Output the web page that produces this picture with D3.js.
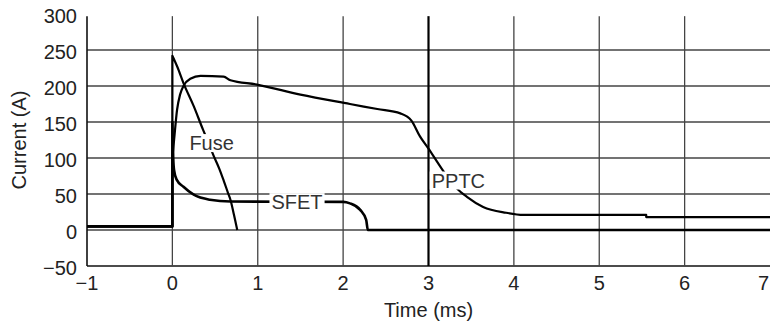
<!DOCTYPE html>
<html><head><meta charset="utf-8">
<script src="https://cdn.jsdelivr.net/npm/d3@7"></script>
<style>body{margin:0;background:#fff}text{font-family:"Liberation Sans",Arial,Helvetica,sans-serif}</style>
</head><body><svg id="c" width="770" height="330"></svg>
<script>
const xTicks = [-1,0,1,2,3,4,5,6,7];
const yTicks = [-50,0,50,100,150,200,250,300];
const fuse = [[-1,5],[0,5],[0,242],[0.06,226],[0.13,204],[0.25,172],[0.36,139],[0.42,122],[0.48,104],[0.55,85],[0.6,69],[0.65,52],[0.68,42],[0.72,22],[0.76,0]];
const pptc = [[-1,5],[0,5],[0,100],[0.02,125],[0.055,167],[0.09,188],[0.13,200],[0.21,210],[0.33,214],[0.6,213],[0.68,208],[0.99,202],[1.5,188],[2.08,175],[2.4,168],[2.67,162],[2.8,152],[2.9,130],[3.0,113],[3.15,86],[3.33,58],[3.45,46],[3.64,32],[3.91,24],[4.11,21],[5.55,21],[5.55,18],[7,18]];
const sfet = [[-1,5],[0,5],[0,150],[0.01,100],[0.02,83],[0.05,70],[0.13,60],[0.25,49],[0.44,42],[0.68,39.5],[2.0,39],[2.08,37],[2.2,28],[2.27,14],[2.29,0],[7,0]];
const labels = [{text:"Fuse",t:0.46,v:121},{text:"SFET",t:1.46,v:39},{text:"PPTC",t:3.35,v:69}];

const svg = d3.select("#c");
const x = d3.scaleLinear().domain([-1,7]).range([87,770]);
const y = d3.scaleLinear().domain([-50,300]).range([266,14]);

// grid
const g = svg.append("g");
g.selectAll("line.h").data(yTicks.filter(d=>d<300)).join("line")
  .attr("x1",x(-1)).attr("x2",x(7)).attr("y1",d=>y(d)).attr("y2",d=>y(d))
  .attr("stroke",d=>d===-50?"#111":"#444").attr("stroke-width",d=>d===-50?1.6:1.3);
g.selectAll("line.v").data(xTicks.filter(d=>d<7)).join("line")
  .attr("x1",d=>x(d)).attr("x2",d=>x(d)).attr("y1",y(-50)).attr("y2",y(297))
  .attr("stroke",d=>d===3?"#000":(d===-1?"#111":"#444"))
  .attr("stroke-width",d=>d===3?2.2:(d===-1?1.6:1.3));

// split series into runs of strictly increasing time; jumps drawn straight
const smooth = d3.line().x(d=>x(d[0])).y(d=>y(d[1])).curve(d3.curveMonotoneX);
function pathFor(s){
  const runs=[]; let cur=[s[0]];
  for(let i=1;i<s.length;i++){
    if(s[i][0]===s[i-1][0]){runs.push(cur);cur=[s[i]];} else cur.push(s[i]);
  }
  runs.push(cur);
  return runs.map((r,i)=>{const p=r.length>1?smooth(r):"M"+x(r[0][0])+","+y(r[0][1]);return i?"L"+p.slice(1):p;}).join("");
}
[[fuse,2.2],[pptc,2.2],[sfet,2.6]].forEach(([s,w])=>{
  svg.append("path").attr("d",pathFor(s)).attr("fill","none").attr("stroke","#000")
    .attr("stroke-width",w).attr("stroke-linejoin","round");
});

// labels
labels.forEach(l=>{
  const t = svg.append("text").attr("x",x(l.t)).attr("y",y(l.v)).attr("dy","0.36em")
    .attr("text-anchor","middle").attr("font-size",20).attr("fill","#333").text(l.text);
  const b = t.node().getBBox();
  svg.insert("rect","text").attr("x",b.x-2).attr("y",b.y+2).attr("width",b.width+4).attr("height",b.height-4).attr("fill","#fff");
  t.raise();
});

// tick labels
svg.selectAll("text.yt").data(yTicks).join("text").attr("class","yt")
  .attr("x",77).attr("y",d=>y(d)+8.5).attr("text-anchor","end").attr("font-size",20).attr("fill","#222")
  .text(d=>d<0?"\u2212"+Math.abs(d):d);
svg.selectAll("text.xt").data(xTicks).join("text").attr("class","xt")
  .attr("x",d=>d===7?x(d)-1:x(d)).attr("y",290).attr("text-anchor",d=>d===7?"end":"middle").attr("font-size",20).attr("fill","#222")
  .text(d=>d<0?"\u2212"+Math.abs(d):d);

svg.append("text").attr("x",(x(-1)+x(7))/2).attr("y",317).attr("text-anchor","middle")
  .attr("font-size",20).attr("fill","#222").text("Time (ms)");
svg.append("text").attr("transform","translate(26,140) rotate(-90)").attr("text-anchor","middle")
  .attr("font-size",20).attr("fill","#222").text("Current (A)");
</script></body></html>
